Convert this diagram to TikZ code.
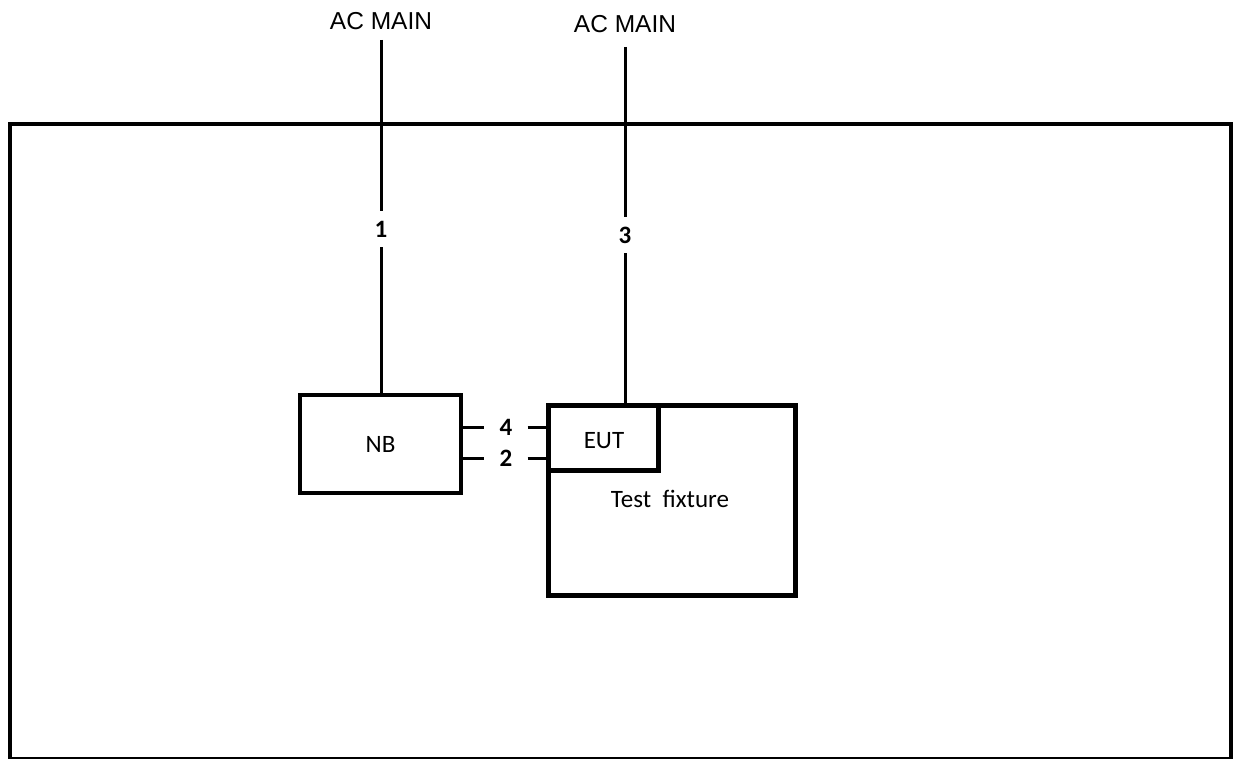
\documentclass[tikz,border=0pt]{standalone}
\usepackage{fontspec}
\setmainfont{Carlito}
\newfontfamily\arialfont{Liberation Sans}
\usetikzlibrary{positioning}
\tikzset{
  box/.style={draw, line width=4.5pt, rectangle, inner sep=0pt, outer sep=0pt},
  mainlbl/.style={font=\arialfont\fontsize{24.5}{28}\selectfont, inner sep=2pt},
  portnum/.style={font=\bfseries\fontsize{25}{28}\selectfont, inner sep=10pt},
  wire/.style={line width=3pt}
}
\begin{document}
\begin{tikzpicture}[x=1pt, y=-1pt, line join=miter]
  \useasboundingbox (0,0) rectangle (1234,758);
  % outer frame
  \draw[line width=4.5pt] (10,124) rectangle (1231,759.6);

  % supply labels
  \node[mainlbl] (acl) at (381,21) {AC MAIN};
  \node[mainlbl] (acr) at (625,24) {AC MAIN};

  % boxes
  \node[box, minimum width=161pt, minimum height=98pt] (nb) at (380.5,444) {};
  \node[font=\fontsize{25}{28}\selectfont] (nbtext) at (nb.center) {NB};
  \node[box, minimum width=247pt, minimum height=190pt, anchor=north west] (fixture) at (548.5,405.5) {};
  \node[box, minimum width=110pt, minimum height=65pt, anchor=north west] (eut) at (548.5,405.5) {};
  \node[font=\fontsize{25}{28}\selectfont] (euttext) at (604,441) {EUT};
  \node[font=\fontsize{25}{28}\selectfont] (fixturetext) at (670,499) {Test\ \ fixture};

  % port numbers
  \node[portnum] (one) at (381,229) {1};
  \node[portnum] (three) at (625,235) {3};
  \node[portnum, inner xsep=15pt] (four) at (506,427) {4};
  \node[portnum, inner xsep=15pt] (two) at (506,458) {2};

  % wiring
  \draw[wire, shorten <=8pt] (acl.south) -- (one);
  \draw[wire] (one) -- (one |- nb.north);
  \draw[wire, shorten <=12pt] (acr.south) -- (three);
  \draw[wire] (three) -- (three |- eut.north);
  \draw[wire] (four -| nb.east) -- (four) -- (four -| eut.west);
  \draw[wire] (two -| nb.east) -- (two) -- (two -| eut.west);
\end{tikzpicture}
\end{document}
